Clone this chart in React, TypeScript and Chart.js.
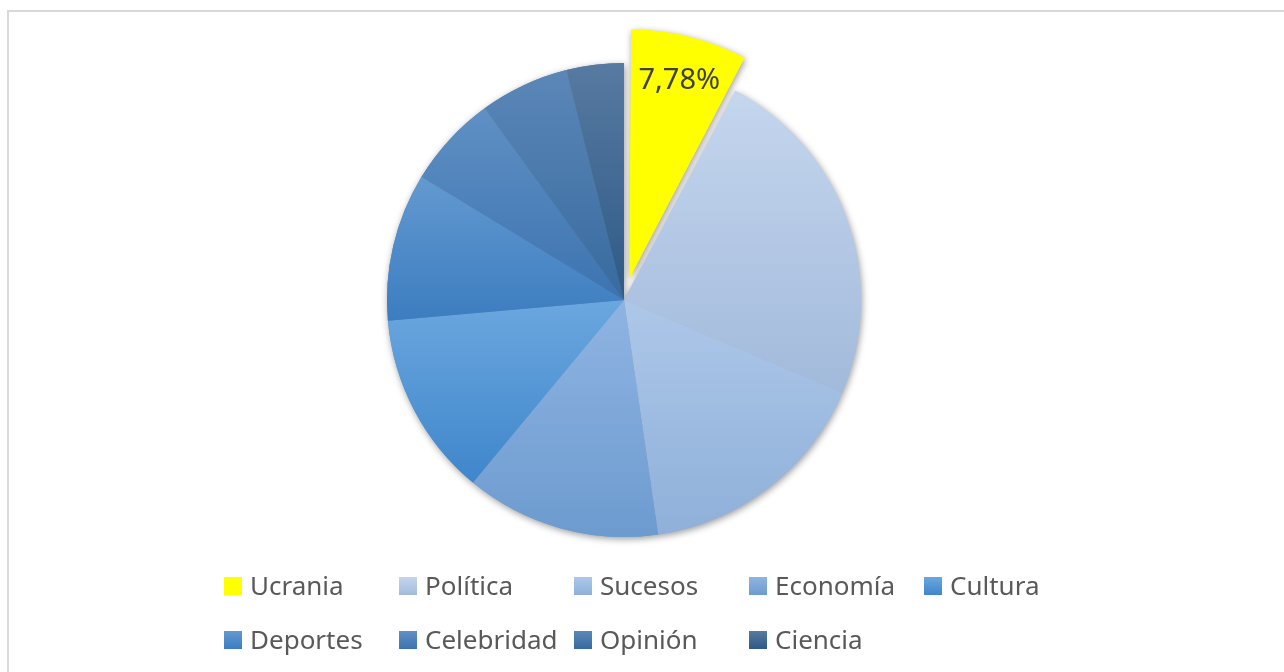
import React, { useEffect, useRef } from 'react';
import { Chart, registerables } from 'chart.js';

Chart.register(...registerables);

// ---- data ----
const categories = ['Ucrania', 'Política', 'Sucesos', 'Economía', 'Cultura', 'Deportes', 'Celebridad', 'Opinión', 'Ciencia'];
const shares = [7.78, 23.62, 16.3, 13.3, 12.6, 10.1, 6.3, 6.1, 3.9];
const labelledSlices = [true, false, false, false, false, false, false, false, false];

// ---- styles ----
const topColors = ['#FFFF00', '#c5d6ee', '#adc7e8', '#8fb4e2', '#6ba7df', '#6399d0', '#6090c4', '#5b87b8', '#577aa1'];
const bottomColors = ['#FFFF00', '#a2badb', '#8fb0da', '#6d9bcf', '#3f86cb', '#3c7dc0', '#3c73b0', '#386a9f', '#2e5a86'];
const explodeOffsets = [89, 0, 0, 0, 0, 0, 0, 0, 0];
const PIE_RADIUS = 237;
const FONT = '"Noto Sans", "Open Sans", sans-serif';

function sliceGeometry(chart: any, i: number) {
  const area = chart.chartArea;
  const cx = (area.left + area.right) / 2;
  const cy = (area.top + area.bottom) / 2;
  const total = shares.reduce((a, b) => a + b, 0);
  let cum = 0;
  for (let j = 0; j < i; j++) cum += shares[j];
  const a0 = -Math.PI / 2 + (cum / total) * Math.PI * 2;
  const a1 = a0 + (shares[i] / total) * Math.PI * 2;
  const circ = a1 - a0;
  const half = (a0 + a1) / 2;
  const off = (explodeOffsets[i] / 4) * (2 - Math.sin(Math.min(Math.PI, circ)));
  return { ox: cx + Math.cos(half) * off, oy: cy + Math.sin(half) * off, a0, a1, half };
}

function sliceGradient(chart: any, i: number) {
  if (!chart.chartArea) return topColors[i];
  const { ox, oy, a0, a1 } = sliceGeometry(chart, i);
  let minY = oy;
  let maxY = oy;
  for (let k = 0; k <= 80; k++) {
    const a = a0 + ((a1 - a0) * k) / 80;
    const y = oy + Math.sin(a) * PIE_RADIUS;
    if (y < minY) minY = y;
    if (y > maxY) maxY = y;
  }
  const g = chart.ctx.createLinearGradient(0, minY, 0, maxY);
  g.addColorStop(0, topColors[i]);
  g.addColorStop(1, bottomColors[i]);
  return g;
}

const shadowPlugin = {
  id: 'pieShadow',
  beforeDatasetsDraw(chart: any) {
    const ctx = chart.ctx;
    const meta = chart.getDatasetMeta(0);
    meta.data.forEach((arc: any) => {
      ctx.save();
      ctx.shadowColor = 'rgba(0,0,0,0.4)';
      ctx.shadowBlur = 7;
      ctx.shadowOffsetX = 1;
      ctx.shadowOffsetY = 2;
      arc.draw(ctx);
      ctx.restore();
    });
  },
};

const labelPlugin = {
  id: 'sliceLabels',
  afterDatasetsDraw(chart: any) {
    const ctx = chart.ctx;
    ctx.save();
    const size = 29;
    ctx.font = `${size}px ${FONT}`;
    ctx.fillStyle = '#404040';
    ctx.textAlign = 'center';
    ctx.textBaseline = 'alphabetic';
    shares.forEach((v, i) => {
      if (!labelledSlices[i]) return;
      const { ox, oy, half } = sliceGeometry(chart, i);
      const x = ox + Math.cos(half) * PIE_RADIUS * 0.82;
      const y = oy + Math.sin(half) * PIE_RADIUS * 0.82;
      const txt = v.toFixed(2).replace('.', ',') + '%';
      ctx.fillText(txt, x, y + size * 0.36);
    });
    ctx.restore();
  },
};

const gridLegendPlugin = {
  id: 'gridLegend',
  afterDraw(chart: any) {
    const ctx = chart.ctx;
    const left = 224;
    const colW = 175;
    const rowH = 54;
    const top = 577;
    const box = 18;
    ctx.save();
    ctx.font = `26px ${FONT}`;
    ctx.textAlign = 'left';
    ctx.textBaseline = 'alphabetic';
    categories.forEach((c, i) => {
      const col = i % 5;
      const row = Math.floor(i / 5);
      const x = left + col * colW;
      const y = top + row * rowH;
      const g = ctx.createLinearGradient(0, y, 0, y + box);
      g.addColorStop(0, topColors[i]);
      g.addColorStop(1, bottomColors[i]);
      ctx.fillStyle = g;
      ctx.fillRect(x, y, box, box);
      ctx.fillStyle = '#595959';
      ctx.fillText(c, x + box + 8, y + box);
    });
    ctx.restore();
  },
};

export default function App() {
  const canvasRef = useRef<HTMLCanvasElement | null>(null);

  useEffect(() => {
    document.body.style.margin = '0';
    document.body.style.overflow = 'hidden';
    if (!canvasRef.current) return;
    const chart = new Chart(canvasRef.current, {
      type: 'pie',
      data: {
        labels: categories,
        datasets: [
          {
            data: shares,
            backgroundColor: (ctx: any) => sliceGradient(ctx.chart, ctx.dataIndex),
            borderWidth: 0,
            offset: explodeOffsets,
            hoverOffset: 0,
          } as any,
        ],
      },
      options: {
        animation: false,
        responsive: true,
        maintainAspectRatio: false,
        radius: PIE_RADIUS,
        layout: { padding: { left: 0, right: 36, top: 0, bottom: 72 } },
        plugins: {
          legend: { display: false },
          tooltip: { enabled: false },
        },
        events: [],
      } as any,
      plugins: [shadowPlugin, labelPlugin, gridLegendPlugin],
    });
    return () => chart.destroy();
  }, []);

  return (
    <div style={{ position: 'fixed', left: 0, top: 0, width: 1284, height: 672, background: '#fff' }}>
      <div
        style={{
          position: 'absolute',
          left: 7,
          top: 10,
          width: 1277,
          height: 662,
          borderTop: '2px solid #d9d9d9',
          borderLeft: '2px solid #d9d9d9',
          boxSizing: 'border-box',
        }}
      />
      <div style={{ position: 'absolute', left: 0, top: 0, width: 1284, height: 672 }}>
        <canvas ref={canvasRef} />
      </div>
    </div>
  );
}
